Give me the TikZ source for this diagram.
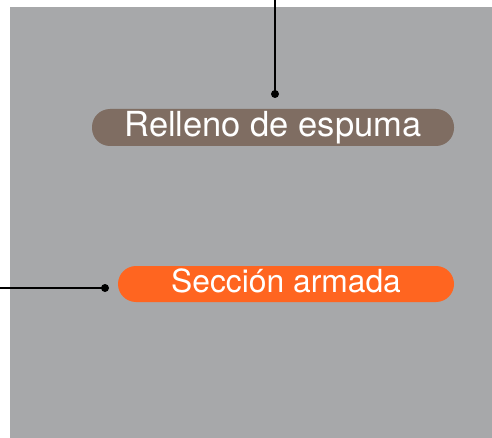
\documentclass[tikz,border=0pt]{standalone}
\usepackage{fontspec}
\setmainfont{TeX Gyre Heros}

\definecolor{panelgray}{RGB}{167,168,170}
\definecolor{foambrown}{RGB}{127,109,98}
\definecolor{armorange}{RGB}{255,101,32}

\begin{document}
\begin{tikzpicture}[
	x=1pt, y=-1pt,
	label box/.style={
		rectangle,
		rounded corners=18pt,
		align=center,
		text=white,
		inner sep=0pt
	},
	pin dot/.style={
		circle,
		fill=black,
		inner sep=0pt,
		minimum size=8pt
	},
	leader/.style={
		line width=1.8pt,
		draw=black
	},
]

\useasboundingbox (0,0) rectangle (492,438);

% Background panel
\node[rectangle, fill=panelgray, minimum width=482pt, minimum height=431pt, inner sep=0pt]
(panel) at (251,222.5) {};

% Labels
\node[label box, fill=foambrown, minimum width=362pt, minimum height=37pt,
	text height=25pt, text depth=7pt, font=\fontsize{34.5}{40}\selectfont]
(foam) at (273,127.5) {Relleno de espuma};
\node[label box, fill=armorange, minimum width=336pt, minimum height=36pt,
	text height=23pt, text depth=7pt, font=\fontsize{31.8}{38}\selectfont]
(armed) at (286,284) {Sección armada};

% Pins
\node[pin dot] (foamdot) at (275,94) {};
\node[pin dot] (armeddot) at (105,288) {};

\coordinate (foamend) at (275,0);
\coordinate (armedend) at (0,288);

\draw[leader] (foamend) -- (foamdot.center);
\draw[leader] (armedend) -- (armeddot.center);

\end{tikzpicture}
\end{document}
